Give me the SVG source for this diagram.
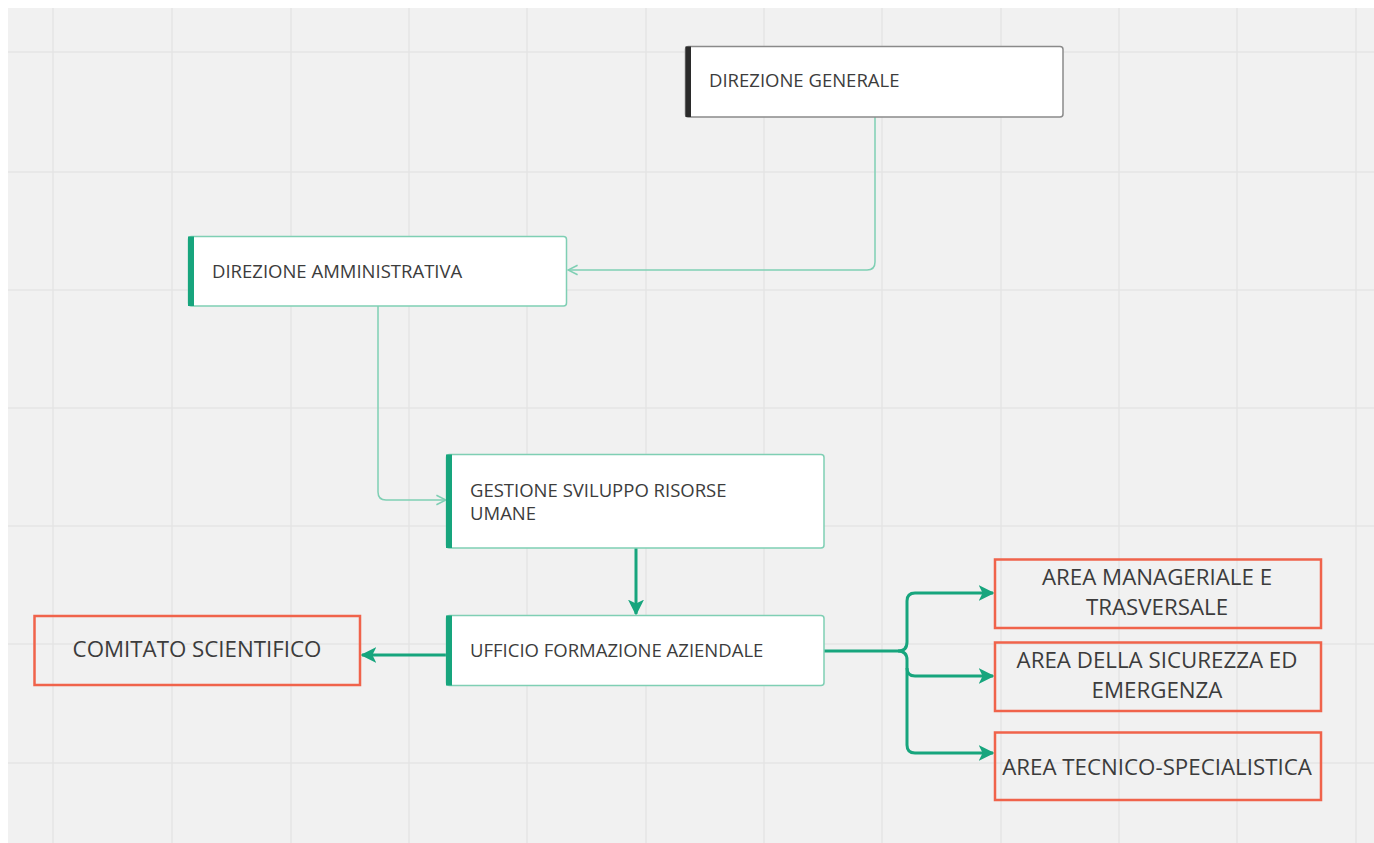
<svg xmlns="http://www.w3.org/2000/svg" width="1374" height="843" viewBox="0 0 1374 843">
<defs>
<style>
.t{font-family:"Open Sans","Noto Sans","Liberation Sans",sans-serif;fill:#3c3c3c;}
.s{font-size:18.5px;}
.l{font-size:22.3px;}
.card{fill:#ffffff;stroke:#7fcfb4;stroke-width:1.5;}
.red{fill:none;stroke:#f0634b;stroke-width:2.5;}
.thin{fill:none;stroke:#7fcfb4;stroke-width:1.5;}
.thick{fill:none;stroke:#17a57d;stroke-width:3;}
.grid{stroke:#e5e5e5;stroke-width:1.5;}
</style>
<marker id="open" viewBox="0 0 10 10" refX="9" refY="5" markerWidth="12" markerHeight="12" markerUnits="userSpaceOnUse" orient="auto">
<path d="M1,1 L9,5 L1,9" fill="none" stroke="#7fcfb4" stroke-width="1.3"/>
</marker>
<marker id="fill" viewBox="0 0 10 10" refX="9" refY="5" markerWidth="16" markerHeight="16" markerUnits="userSpaceOnUse" orient="auto">
<path d="M0,0 L10,5 L0,10 L2.5,5 Z" fill="#17a57d"/>
</marker>
</defs>
<rect x="0" y="0" width="1374" height="843" fill="#ffffff"/>
<rect x="8" y="8" width="1366" height="835" fill="#f1f1f1"/>
<g id="grid">
<line class="grid" x1="53" y1="8" x2="53" y2="843"/>
<line class="grid" x1="172" y1="8" x2="172" y2="843"/>
<line class="grid" x1="291" y1="8" x2="291" y2="843"/>
<line class="grid" x1="409" y1="8" x2="409" y2="843"/>
<line class="grid" x1="527" y1="8" x2="527" y2="843"/>
<line class="grid" x1="646" y1="8" x2="646" y2="843"/>
<line class="grid" x1="764" y1="8" x2="764" y2="843"/>
<line class="grid" x1="882" y1="8" x2="882" y2="843"/>
<line class="grid" x1="1001" y1="8" x2="1001" y2="843"/>
<line class="grid" x1="1119" y1="8" x2="1119" y2="843"/>
<line class="grid" x1="1237" y1="8" x2="1237" y2="843"/>
<line class="grid" x1="1356" y1="8" x2="1356" y2="843"/>
<line class="grid" x1="8" y1="52" x2="1374" y2="52"/>
<line class="grid" x1="8" y1="172" x2="1374" y2="172"/>
<line class="grid" x1="8" y1="290" x2="1374" y2="290"/>
<line class="grid" x1="8" y1="408" x2="1374" y2="408"/>
<line class="grid" x1="8" y1="526" x2="1374" y2="526"/>
<line class="grid" x1="8" y1="644" x2="1374" y2="644"/>
<line class="grid" x1="8" y1="763" x2="1374" y2="763"/>
</g>
<g id="connectors">
<path class="thin" d="M875,117 V262 Q875,270 867,270 H568" marker-end="url(#open)"/>
<path class="thin" d="M378,306 V492 Q378,500 386,500 H446" marker-end="url(#open)"/>
<path class="thick" d="M636,548 V614" marker-end="url(#fill)"/>
<path class="thick" d="M446,655 H362" marker-end="url(#fill)"/>
<path class="thick" d="M824,651 H898 Q907,651 907,642 V601 Q907,593 915,593 H993" marker-end="url(#fill)"/>
<path class="thick" d="M898,651 Q907,651 907,660 V668 Q907,676 915,676 H993" marker-end="url(#fill)"/>
<path class="thick" d="M907,668 V745 Q907,753 915,753 H993" marker-end="url(#fill)"/>
</g>
<g id="direzione-generale">
<rect x="685.5" y="46.5" width="377.5" height="70.5" rx="3" fill="#ffffff" stroke="#8a8a8a" stroke-width="1.5"/>
<rect x="685.5" y="46.5" width="5.5" height="70.5" fill="#2b2b2b"/>
<text class="t s" x="709" y="87">DIREZIONE GENERALE</text>
</g>
<g id="direzione-amministrativa">
<rect class="card" x="188.5" y="236.5" width="378" height="69.5" rx="3"/>
<rect x="188" y="236.5" width="6" height="69.5" fill="#17a57d"/>
<text class="t s" x="212" y="278">DIREZIONE AMMINISTRATIVA</text>
</g>
<g id="gestione-sviluppo">
<rect class="card" x="446.5" y="454.5" width="377.5" height="93.5" rx="3"/>
<rect x="446" y="454.5" width="6" height="93.5" fill="#17a57d"/>
<text class="t s" x="470" y="497">GESTIONE SVILUPPO RISORSE</text>
<text class="t s" x="470" y="520">UMANE</text>
</g>
<g id="ufficio-formazione">
<rect class="card" x="446.5" y="615.5" width="377.5" height="70" rx="3"/>
<rect x="446" y="615.5" width="6" height="70" fill="#17a57d"/>
<text class="t s" x="470" y="657">UFFICIO FORMAZIONE AZIENDALE</text>
</g>
<g id="comitato-scientifico">
<rect class="red" x="34.5" y="616" width="325.5" height="69"/>
<text class="t l" x="197" y="657" text-anchor="middle">COMITATO SCIENTIFICO</text>
</g>
<g id="area-manageriale">
<rect class="red" x="995" y="559.5" width="326" height="68.5"/>
<text class="t l" x="1157" y="585" text-anchor="middle">AREA MANAGERIALE E</text>
<text class="t l" x="1157" y="615" text-anchor="middle">TRASVERSALE</text>
</g>
<g id="area-sicurezza">
<rect class="red" x="995" y="642.5" width="326" height="68.5"/>
<text class="t l" x="1157" y="668" text-anchor="middle">AREA DELLA SICUREZZA ED</text>
<text class="t l" x="1157" y="698" text-anchor="middle">EMERGENZA</text>
</g>
<g id="area-tecnico">
<rect class="red" x="995" y="732.5" width="326" height="67.5"/>
<text class="t l" x="1157" y="775" text-anchor="middle">AREA TECNICO-SPECIALISTICA</text>
</g>
</svg>
